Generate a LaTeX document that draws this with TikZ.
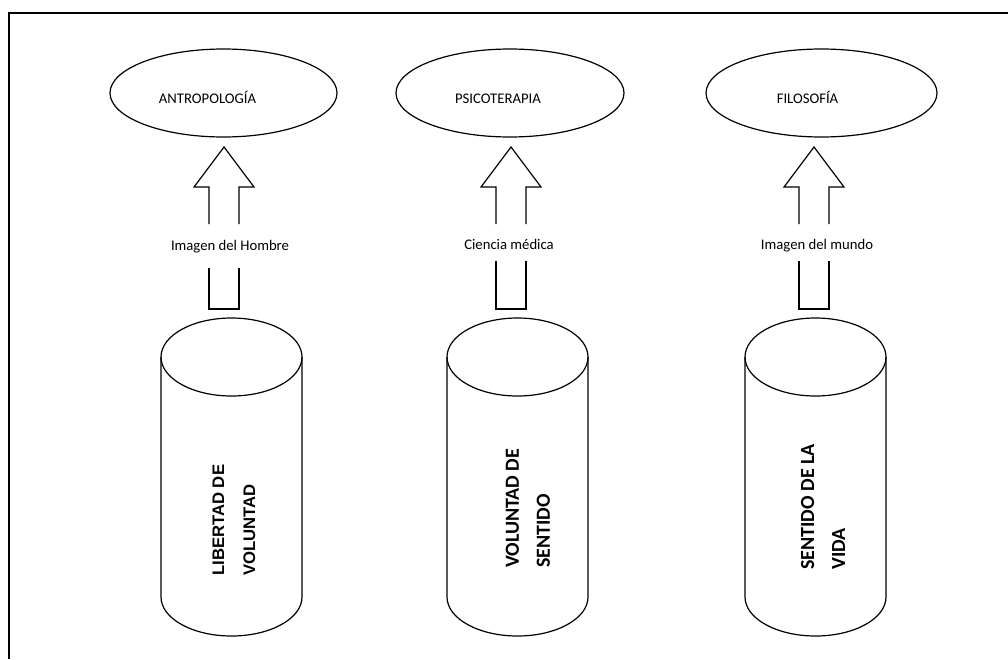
\documentclass[tikz,border=0pt]{standalone}
\usepackage{fontspec}
\setmainfont{Carlito}
\newfontfamily\arialfont{Liberation Sans}
\usetikzlibrary{shapes.geometric}
\newcommand\mycylinder[2]{%
  \coordinate (#2) at (#1,477);
  \draw[shapeline] (#1,357) ellipse [x radius=70.5, y radius=39];
  \draw[shapeline] (#1-70.5,357) -- (#1-70.5,597)
     arc[start angle=180, end angle=0, x radius=70.5, y radius=39] -- (#1+70.5,357);
}
\newcommand\myblockarrow[3]{% cx, gap bottom, name
  \coordinate (#3) at (#1,228);
  \draw[shapeline] (#1+15,224) -- (#1+15,187) -- (#1+30,187) -- (#1,147)
     -- (#1-30,187) -- (#1-15,187) -- (#1-15,224);
  \draw[shapeline] (#1-15,#2) -- (#1-15,309) -- (#1+15,309) -- (#1+15,#2);
}
\begin{document}
\begin{tikzpicture}[x=1pt,y=-1pt,
  shapeline/.style={line width=1.2pt, line join=miter},
  oval/.style={ellipse, draw, line width=1.2pt, inner sep=0pt, minimum height=88pt},
  smalltext/.style={anchor=base, inner sep=0pt, font=\fontsize{14.7}{17}\selectfont},
  cyltext/.style={rotate=90, anchor=west, align=left, inner sep=0pt,
     font=\fontsize{20}{31}\selectfont\bfseries},
  frame/.style={line width=2pt}]
\useasboundingbox (0,0) rectangle (1008,659);
% frame
\coordinate (f1) at (1008,13);
\coordinate (f2) at (9,13);
\coordinate (f3) at (9,659);
\draw[frame] (f1) -- (f2) -- (f3);
% ovals
\node[oval, minimum width=227pt] (o1) at (223.5,93) {};
\node[oval, minimum width=228pt] (o2) at (510,93) {};
\node[oval, minimum width=231pt] (o3) at (821.5,93) {};
\node[smalltext] (t1) at (207.5,103.5) {ANTROPOLOGÍA};
\node[smalltext] (t2) at (498,103.5) {PSICOTERAPIA};
\node[smalltext] (t3) at (807.5,103.5) {FILOSOFÍA};
% arrows
\myblockarrow{224}{268}{a1}
\myblockarrow{511}{261}{a2}
\myblockarrow{814}{261}{a3}
\node[smalltext] (l1) at (230,250) {Imagen del Hombre};
\node[smalltext] (l2) at (509,249) {Ciencia médica};
\node[smalltext] (l3) at (817,249) {Imagen del mundo};
% cylinders
\mycylinder{231.5}{c1}
\mycylinder{517.5}{c2}
\mycylinder{815.5}{c3}
\node[cyltext, font=\fontsize{16.7}{31}\selectfont\bfseries\arialfont] (ct1) at (234,576) {LIBERTAD DE\\VOLUNTAD};
\node[cyltext] (ct2) at (528,568) {VOLUNTAD DE\\SENTIDO};
\node[cyltext] (ct3) at (823,570) {SENTIDO DE LA\\VIDA};
\end{tikzpicture}
\end{document}
